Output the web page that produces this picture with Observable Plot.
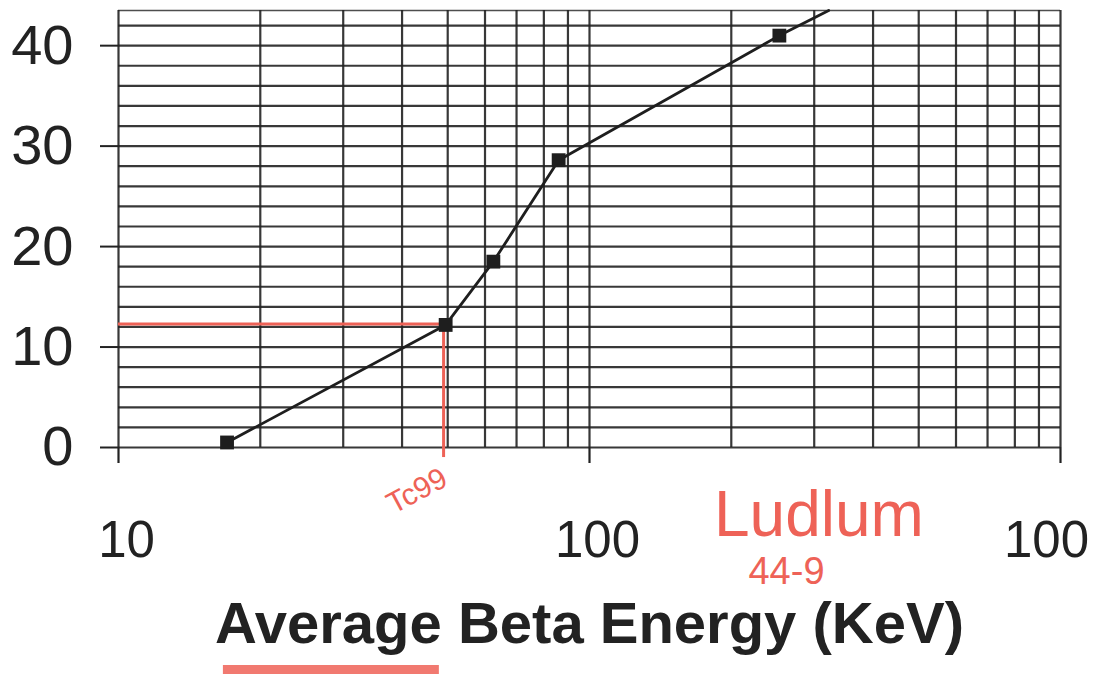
<!DOCTYPE html>
<html><head><meta charset="utf-8">
<script src="https://cdn.jsdelivr.net/npm/d3@7"></script>
<script src="https://cdn.jsdelivr.net/npm/@observablehq/plot@0.6"></script>
<style>html,body{margin:0;padding:0;background:#fff;} svg{display:block;}</style>
</head><body><div id="chart"></div>
<script>
// measured points (Average Beta Energy in keV vs efficiency %)
const energy = [17, 49.5, 62.5, 86, 253];
const efficiency = [0.5, 12.2, 18.5, 28.6, 41.0];
// drawn curve, continued past last point to the top edge
const curveEnergy = [17, 49.5, 62.5, 86, 253, 322];
const curveEfficiency = [0.5, 12.2, 18.5, 28.6, 41.0, 43.5];

const yTicks = [0, 10, 20, 30, 40];
const yGrid = [0, 2, 4, 6, 8, 10, 12, 14, 16, 18, 20, 22, 24, 26, 28, 30, 32, 34, 36, 38, 40, 42];
const yTop = [43.5];
const xGrid = [10, 20, 30, 40, 50, 60, 70, 80, 90, 100, 200, 300, 400, 500, 600, 700, 800, 900, 1000];
const xMajor = [10, 100, 1000];
const xTickLabelsLeft = ["10", "100"];
const xTickLabelRight = ["100"];
const xTitle = "Average Beta Energy (KeV)";

// red hand annotations
const tcEnergy = [49];
const tcEfficiency = [12.3];
const tcLabel = ["Tc99"];
const noteEnergy = [307];
const noteLabel = ["Ludlum"];
const noteEnergy2 = [262];
const noteLabel2 = ["44-9"];
const underlineEnergy = [16.7, 48];

const red = "#ee6257";
const ink = "#222";
const font = "'Liberation Sans', Arial, Helvetica, sans-serif";

const pts = energy.map((e, i) => ({e, v: efficiency[i]}));
const curve = curveEnergy.map((e, i) => ({e, v: curveEfficiency[i]}));

const chart = Plot.plot({
  width: 1095,
  height: 677,
  marginLeft: 118,
  marginRight: 35,
  marginTop: 10,
  marginBottom: 230,
  style: {fontFamily: font, background: "#fff", overflow: "hidden"},
  x: {type: "log", domain: [10, 1000], axis: null, label: null},
  y: {domain: [0, 43.5], axis: null, label: null},
  marks: [
    // grid
    Plot.ruleY(yGrid, {stroke: ink, strokeWidth: 2.2, strokeOpacity: 0.9}),
    Plot.ruleY(yTop, {stroke: ink, strokeWidth: 1.5, strokeOpacity: 0.8}),
    Plot.ruleX(xGrid, {stroke: ink, strokeWidth: 2.2, strokeOpacity: 0.9}),
    // y axis ticks + labels
    Plot.axisY(yTicks, {label: null, tickSize: 18, tickPadding: 27, fontSize: 56, stroke: ink, strokeWidth: 2, color: "#222", tickFormat: d => String(d)}),
    // x decade ticks extending below
    Plot.axisX(xMajor, {label: null, tickSize: 16, tickFormat: () => "", stroke: ink, strokeWidth: 2.2}),
    Plot.text(xTickLabelsLeft, {x: (d, i) => xMajor[i], text: d => d, frameAnchor: "bottom", dy: 93, dx: 8, lineAnchor: "middle", fontSize: 51, fill: "#222"}),
    Plot.text(xTickLabelRight, {x: () => xMajor[2], text: d => d, frameAnchor: "bottom", dy: 93, dx: -14, lineAnchor: "middle", fontSize: 51, fill: "#222"}),
    Plot.text([xTitle], {frameAnchor: "bottom", dy: 177, lineAnchor: "middle", fontSize: 58, fontWeight: "bold", fill: "#222"}),
    // red annotations
    Plot.ruleY(tcEfficiency, {x1: 10, x2: () => tcEnergy[0], stroke: red, strokeWidth: 3}),
    Plot.ruleX(tcEnergy, {y1: () => tcEfficiency[0], y2: -1.0, stroke: red, strokeWidth: 3}),
    Plot.text(tcLabel, {x: () => tcEnergy[0], frameAnchor: "bottom", dx: -22, dy: 52, rotate: -28, text: d => d, fontSize: 30, fill: red}),
    Plot.text(noteLabel, {x: () => noteEnergy[0], frameAnchor: "bottom", dy: 88, text: d => d, fontSize: 64, fill: red}),
    Plot.text(noteLabel2, {x: () => noteEnergy2[0], frameAnchor: "bottom", dy: 136, text: d => d, fontSize: 38, fill: red}),
    Plot.ruleY([0], {x1: () => underlineEnergy[0], x2: () => underlineEnergy[1], dy: 222, stroke: red, strokeWidth: 9, strokeOpacity: 0.85}),
    // curve and points
    Plot.line(curve, {x: "e", y: "v", stroke: "#1e1e1e", strokeWidth: 2.8}),
    Plot.dot(pts, {x: "e", y: "v", symbol: "square", r: 7.8, fill: "#1e1e1e"})
  ]
});
document.getElementById("chart").appendChild(chart);
</script>
</body></html>
